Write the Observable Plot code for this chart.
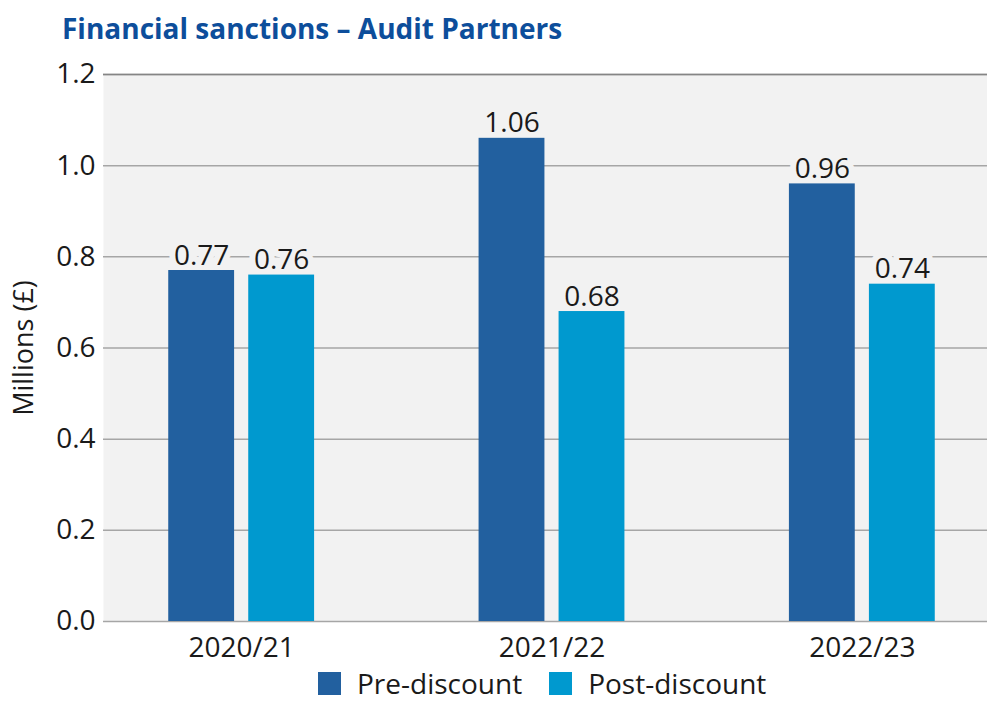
<!DOCTYPE html>
<html><head><meta charset="utf-8">
<script src="https://cdn.jsdelivr.net/npm/d3@7"></script>
<script src="https://cdn.jsdelivr.net/npm/@observablehq/plot@0.6"></script>
<style>
body{margin:0;background:#fff;font-family:"Open Sans",sans-serif;}
#title{height:46px;line-height:56px;padding-left:62px;font-weight:700;font-size:28px;color:#0d4e9b;white-space:nowrap;overflow:visible}
#legend{display:flex;align-items:center;padding-left:318px;height:42px;margin-top:-6px;font-size:28px;line-height:1;color:#1a1a1a;}
.sw{width:23px;height:23px;margin-right:16px;flex:none}
.lt{margin-right:27px;line-height:1}
</style></head><body>
<div id="title">Financial sanctions – Audit Partners</div>
<div id="chart"></div>
<div id="legend"></div>
<script>
const years = ["2020/21", "2021/22", "2022/23"];
const preDiscount = [0.77, 1.06, 0.96];
const postDiscount = [0.76, 0.68, 0.74];
const yTicks = [0, 0.2, 0.4, 0.6, 0.8, 1.0, 1.2];
const seriesNames = ["Pre-discount", "Post-discount"];
const seriesColors = ["#22609f", "#0099cf"];

const pre = years.map((y, i) => ({year: y, value: preDiscount[i]}));
const post = years.map((y, i) => ({year: y, value: postDiscount[i]}));

const chart = Plot.plot({
  width: 987,
  height: 622,
  marginLeft: 103,
  marginRight: 0,
  marginTop: 28,
  marginBottom: 47,
  style: {fontFamily: "'Open Sans', sans-serif", fontSize: "28px", color: "#1a1a1a", background: "#fff", overflow: "visible"},
  x: {type: "band", domain: years, range: [86, 1017], paddingInner: 0.53, paddingOuter: 0.265, round: false, label: null},
  y: {domain: [0, 1.2], label: null},
  marks: [
    Plot.frame({fill: "#f2f2f2", stroke: null}),
    Plot.gridY(yTicks, {stroke: "#a6a6a6", strokeOpacity: 1, strokeWidth: 1.5}),
    Plot.ruleY([yTicks[yTicks.length - 1]], {stroke: "#858585", strokeWidth: 1.5}),
    Plot.text(pre, {x: "year", y: "value", text: d => d.value.toFixed(2), dx: -40, dy: -6, lineAnchor: "bottom", fill: "#1a1a1a", stroke: "#f2f2f2", strokeWidth: 12, fontSize: 28}),
    Plot.text(post, {x: "year", y: "value", text: d => d.value.toFixed(2), dx: 40, dy: -6, lineAnchor: "bottom", fill: "#1a1a1a", stroke: "#f2f2f2", strokeWidth: 12, fontSize: 28}),
    Plot.barY(pre, {x: "year", y: "value", fill: seriesColors[0], insetRight: 80}),
    Plot.barY(post, {x: "year", y: "value", fill: seriesColors[1], insetLeft: 80}),
    Plot.axisY({ticks: yTicks, tickSize: 0, tickPadding: 8, tickFormat: d => d.toFixed(1), fontSize: 28, label: null}),
    Plot.axisX({tickSize: 0, tickPadding: 16, fontSize: 28, label: null}),
    Plot.text(["Millions (£)"], {frameAnchor: "left", dx: -90, rotate: -90, lineAnchor: "top", textAnchor: "middle", fontSize: 27, fill: "#1a1a1a"})
  ]
});
chart.style.display = "block";
document.getElementById("chart").appendChild(chart);

const legend = document.getElementById("legend");
seriesNames.forEach((n, i) => {
  const sw = document.createElement("span");
  sw.className = "sw"; sw.style.background = seriesColors[i];
  const t = document.createElement("span");
  t.className = "lt"; t.textContent = n;
  legend.appendChild(sw); legend.appendChild(t);
});
</script>
</body></html>
